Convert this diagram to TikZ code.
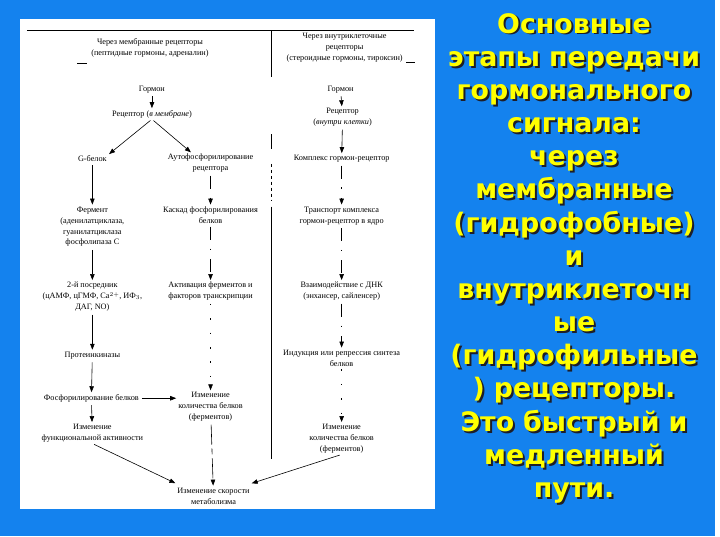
\documentclass[tikz,border=0pt]{standalone}
\usepackage{fontspec}
\setmainfont{Liberation Serif}
\newfontfamily\zagfont{DejaVu Sans}
\usetikzlibrary{arrows.meta}
\definecolor{fonsin}{RGB}{20,130,238}
\definecolor{zhelt}{RGB}{255,255,0}
\definecolor{ten}{RGB}{30,30,40}

\begin{document}
\begin{tikzpicture}[x=1pt,y=-1pt,
    tekst/.style={align=center,inner sep=1pt,font=\fontsize{8.3}{11}\selectfont},
    liniya/.style={line width=0.6pt},
    strelka/.style={liniya,-{Triangle[length=6pt,width=4.5pt]},
      shorten <=2pt,shorten >=1pt},
    rvan/.style={dash pattern=on 13pt off 9pt on 1.5pt off 9pt},
    tochki/.style={dash pattern=on 1.5pt off 13pt},
    zagolovok/.style={align=center,inner sep=0pt,text width=290pt,
      font=\zagfont\bfseries\fontsize{27}{33.4}\selectfont}]

  % fon i belaya panel
  \fill[fonsin] (0,0) rectangle (720,540);
  \fill[white] (20,19) rectangle (438,513);

  % shapka tablicy
  \draw[liniya] (27,31) -- (417,31);
  \draw[liniya] (273,31) -- (273,78);
  \draw[liniya] (273,135) -- (273,150);
  \draw[liniya,dashed] (273,165) -- (273,202);
  \draw[liniya] (273,208) -- (273,462);
  \draw[liniya] (78,64) -- (88,64);
  \draw[liniya] (409,63) -- (418,63);
  \node[tekst] (hl) at (151,48) {Через мембранные рецепторы\\(пептидные гормоны, адреналин)};
  \node[tekst,anchor=north] (hr) at (347,32) {Через внутриклеточные\\рецепторы\\(стероидные гормоны, тироксин)};

  % levaya i srednyaya kolonki: membrannye receptory
  \node[tekst] (l0) at (153,90) {Гормон};
  \node[tekst] (l1) at (153,115) {Рецептор (\textit{в мембране})};
  \node[tekst] (l2) at (93,160) {G-белок};
  \node[tekst,anchor=north] (m2) at (212,154) {Аутофосфорилирование\\рецептора};
  \node[tekst,anchor=north] (l3) at (93,207) {Фермент\\(аденилатциклаза,\\гуанилатциклаза\\фосфолипаза C};
  \node[tekst,anchor=north] (m3) at (212,207) {Каскад фосфорилирования\\белков};
  \node[tekst,anchor=north] (l4) at (93,283) {2-й посредник\\(цАМФ, цГМФ, Ca$^{2+}$, ИФ$_3$,\\ДАГ, NO)};
  \node[tekst,anchor=north] (m4) at (212,283) {Активация ферментов и\\факторов транскрипции};
  \node[tekst] (l5) at (93,358) {Протеинкиназы};
  \node[tekst] (l6) at (92,401) {Фосфорилирование белков};
  \node[tekst,anchor=north] (m6) at (212,394) {Изменение\\количества белков\\(ферментов)};
  \node[tekst,anchor=north] (l7) at (93,426) {Изменение\\функциональной активности};
  \node[tekst,anchor=north] (m8) at (215,490) {Изменение скорости\\метаболизма};

  % pravaya kolonka: vnutrikletochnye receptory
  \node[tekst] (r0) at (343,90) {Гормон};
  \node[tekst,anchor=north] (r1) at (345,108) {Рецептор\\(\textit{внутри клетки})};
  \node[tekst] (r2) at (344,160) {Комплекс гормон-рецептор};
  \node[tekst,anchor=north] (r3) at (344,207) {Транспорт комплекса\\гормон-рецептор в ядро};
  \node[tekst,anchor=north] (r4) at (344,283) {Взаимодействие с ДНК\\(энхансер, сайленсер)};
  \node[tekst,anchor=north] (r5) at (344,351) {Индукция или репрессия синтеза\\белков};
  \node[tekst,anchor=north] (r6) at (344,426) {Изменение\\количества белков\\(ферментов)};

  % strelki
  \draw[strelka] (l0) -- (l1);
  \draw[strelka] (l1.south) -- ([xshift=16pt]l2.north);
  \draw[strelka] (l1.south) -- ([xshift=-19pt]m2.north);
  \draw[strelka] (l2) -- (l3);
  \draw[strelka,rvan] (m2) -- (m3);
  \draw[strelka] (l3) -- (l4);
  \draw[strelka,rvan] (m3) -- (m4);
  \draw[strelka] (l4) -- (l5);
  \draw[strelka,tochki] (m4) -- (m6);
  \draw[strelka] (l5) -- (l6);
  \draw[strelka] (l6.east) -- (l6.east -| m6.north west);
  \draw[strelka] (l6) -- (l7);
  \draw[strelka] (l7.south) -- ([yshift=3pt]m8.north west);
  \draw[strelka,dash pattern=on 20pt off 4pt on 6pt off 4pt] (m6) -- (m8);
  \draw[strelka] (r6.south) -- ([yshift=3pt]m8.north east);

  \draw[strelka] (r0) -- (r1);
  \draw[strelka] (r1) -- (r2);
  \draw[strelka,rvan] (r2) -- (r3);
  \draw[strelka,rvan] (r3) -- (r4);
  \draw[strelka,rvan] (r4) -- (r5);
  \draw[strelka,tochki] (r5) -- (r6);

  % zagolovok sprava
  \node[zagolovok,text=ten,anchor=north] (zagten) at (580,15) {Основные\\этапы передачи\\гормонального\\сигнала:\\через\\мембранные\\(гидрофобные)\\и\\внутриклеточн\\ые\\(гидрофильные\\) рецепторы.\\Это быстрый и\\медленный\\пути.};
  \node[zagolovok,text=zhelt,anchor=north] (zag) at (578,13) {Основные\\этапы передачи\\гормонального\\сигнала:\\через\\мембранные\\(гидрофобные)\\и\\внутриклеточн\\ые\\(гидрофильные\\) рецепторы.\\Это быстрый и\\медленный\\пути.};
\end{tikzpicture}
\end{document}
